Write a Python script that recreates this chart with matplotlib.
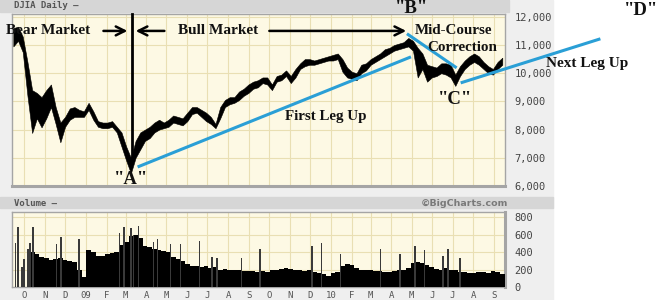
import matplotlib.pyplot as plt
import matplotlib.dates as mdates
from matplotlib.patches import Rectangle
from matplotlib.ticker import FuncFormatter
import pandas as pd

W, H = 664, 300

weeks = pd.date_range('2008-09-15', periods=105, freq='7D')
price_hi = [11600, 11650, 11300, 10400, 9400, 9300, 9150, 9400, 9600, 8800,
            8250, 8450, 8750, 8800, 8700, 8650, 8950, 8650, 8300, 8250,
            8250, 8300, 8100, 7900, 7400, 7000, 7600, 7900, 8000, 8100,
            8250, 8350, 8250, 8350, 8500, 8450, 8400, 8600, 8800, 8800,
            8700, 8600, 8450, 8200, 8800, 9050, 9150, 9150, 9350, 9450,
            9600, 9700, 9750, 9850, 9850, 9600, 9900, 9950, 10100, 9900,
            10150, 10350, 10500, 10500, 10450, 10500, 10550, 10600, 10650, 10700,
            10500, 10200, 10050, 10000, 10300, 10350, 10500, 10600, 10700, 10850,
            10900, 11000, 11050, 11100, 11250, 11150, 10900, 10700, 10300, 10250,
            10200, 10350, 10350, 10300, 9950, 10250, 10450, 10600, 10700, 10600,
            10400, 10250, 10150, 10400, 10550]
price_lo = [10950, 11150, 10750, 9200, 7880, 8400, 8080, 8400, 8800, 8200,
            7550, 8100, 8350, 8450, 8450, 8450, 8700, 8350, 8100, 8050,
            8050, 8100, 7900, 7400, 6900, 6450, 7000, 7300, 7600, 7700,
            7900, 8000, 8050, 8100, 8250, 8200, 8150, 8300, 8550, 8600,
            8450, 8300, 8200, 8050, 8400, 8800, 8900, 8950, 9050, 9200,
            9300, 9450, 9500, 9650, 9600, 9400, 9700, 9750, 9900, 9650,
            9850, 10150, 10250, 10300, 10300, 10350, 10400, 10450, 10450, 10500,
            10050, 9850, 9800, 9750, 10000, 10100, 10300, 10400, 10500, 10600,
            10700, 10800, 10850, 10900, 10950, 10800, 9850, 10150, 9700, 9850,
            9900, 10000, 9950, 9850, 9550, 9900, 10150, 10300, 10400, 10300,
            10150, 10000, 9950, 10150, 10300]

# ---- volume (millions): weekly base level + tall single days ----
vol_base = [0, 0, 0, 0, 400, 380, 340, 330, 310, 320,
            330, 310, 300, 290, 200, 110, 420, 400, 360, 350,
            380, 390, 400, 480, 520, 580, 600, 560, 470, 460,
            440, 420, 410, 400, 340, 320, 300, 260, 240, 240,
            230, 240, 220, 230, 200, 210, 200, 190, 190, 180,
            185, 180, 175, 180, 175, 190, 200, 210, 220, 210,
            200, 190, 180, 190, 170, 160, 150, 130, 160, 170,
            240, 260, 250, 220, 200, 190, 190, 180, 180, 175,
            170, 180, 190, 200, 220, 280, 290, 270, 250, 230,
            210, 200, 220, 200, 190, 170, 170, 160, 160, 170,
            170, 160, 180, 170, 150]
spike_dates = pd.to_datetime([
    '2008-09-18', '2008-09-22', '2008-09-28', '2008-10-01', '2008-10-07',
    '2008-10-10', '2008-10-14', '2008-11-18', '2008-11-25', '2008-12-22',
    '2009-02-20', '2009-02-27', '2009-03-09', '2009-03-13', '2009-03-20',
    '2009-04-12', '2009-04-18', '2009-05-07', '2009-05-22', '2009-06-19',
    '2009-07-08', '2009-07-15', '2009-08-21', '2009-09-17', '2009-12-04',
    '2009-12-18', '2010-01-15', '2010-03-16', '2010-04-14', '2010-05-06',
    '2010-05-07', '2010-05-20', '2010-06-17', '2010-06-24', '2010-07-12'])
spike_vals = [500, 690, 235, 320, 435,
              500, 690, 490, 570, 555,
              615, 690, 680, 600, 700,
              520, 550, 490, 490, 530,
              340, 330, 330, 435, 470,
              510, 380, 435, 380, 470,
              440, 430, 360, 435, 330]

month_ticks = pd.date_range('2008-10-01', '2010-09-01', freq='MS')
month_labels = ['O', 'N', 'D', '09', 'F', 'M', 'A', 'M', 'J', 'J', 'A', 'S',
                'O', 'N', 'D', '10', 'F', 'M', 'A', 'M', 'J', 'J', 'A', 'S']
price_ticks = [6000, 7000, 8000, 9000, 10000, 11000, 12000]
vol_ticks = [0, 200, 400, 600, 800]

# ---- hand drawn annotation points (date, price) ----
turn_date = '2009-03-10'
leg1 = [('2009-03-19', 6675), ('2010-04-30', 10580)]
correction = [('2010-04-24', 11400), ('2010-07-07', 10190)]
leg2 = [('2010-07-13', 9657), ('2011-02-06', 11220)]

BLUE = '#2a9fd6'
CREAM = '#fdf9e4'
GRID = '#e9dfb3'
EDGE = '#a5a5a5'
serif = 'Liberation Serif'
mono = 'DejaVu Sans Mono'


def d(s):
    return mdates.date2num(pd.Timestamp(s))


def fx(px):
    return px / W


def fy(py):
    return 1 - py / H


fig = plt.figure(figsize=(W / 100, H / 100), dpi=100, facecolor='white')

# BigCharts panel background and header bars
fig.add_artist(Rectangle((0, 0), fx(553), 1, transform=fig.transFigure,
                         color='#efefef', zorder=-10))
fig.add_artist(Rectangle((0, fy(12)), fx(509), 12 / H, transform=fig.transFigure,
                         color='#d6d6d6', zorder=-9))
fig.add_artist(Rectangle((0, fy(208)), fx(553), 11 / H, transform=fig.transFigure,
                         color='#d6d6d6', zorder=-9))
fig.text(fx(14), fy(6), 'DJIA Daily \u2014', fontsize=6.5, family=mono,
         color='#555555', va='center', fontweight='bold')
fig.text(fx(14), fy(203), 'Volume \u2014', fontsize=6.5, family=mono,
         color='#555555', va='center', fontweight='bold')
fig.text(fx(508), fy(203), '\u00a9BigCharts.com', fontsize=6.8, color='#7a7a7a',
         va='center', ha='right', fontweight='bold')

xmin, xmax = d('2008-09-13'), d('2010-09-17')

# ---- price panel ----
ax = fig.add_axes([fx(12), fy(186), fx(505) - fx(12), (186 - 14) / H])
ax.set_facecolor(CREAM)
ax.fill_between(weeks, price_lo, price_hi, color='black', lw=0.4,
                edgecolor='black', zorder=3)
ax.set_xlim(xmin, xmax)
ax.set_ylim(6000, 12100)
ax.set_xticks(month_ticks)
ax.set_yticks(price_ticks)
ax.yaxis.set_major_formatter(FuncFormatter(lambda v, p: f'{int(v):,}'))
ax.tick_params(axis='x', length=0, labelbottom=False)
ax.tick_params(axis='y', length=0, labelleft=False, labelright=True, pad=7,
               labelsize=7.5, labelcolor='#444444')
for lab in ax.get_yticklabels():
    lab.set_family(mono)
ax.grid(True, color=GRID, lw=0.8)
ax.set_axisbelow(True)
for s in ax.spines.values():
    s.set_color(EDGE)
    s.set_linewidth(1.0)
ax.spines['bottom'].set_linewidth(2.2)

# annotations
ax.plot([d(turn_date), d(turn_date)], [6810, 12100], color='black', lw=2,
        zorder=5, clip_on=False)
arr = dict(arrowstyle='->', color='black', lw=1.8, mutation_scale=16)
ax.annotate('', xy=(d('2009-03-08'), 11500), xytext=(d('2009-01-23'), 11500),
            arrowprops=arr, zorder=6)
ax.annotate('', xy=(d('2009-03-12'), 11500), xytext=(d('2009-05-02'), 11500),
            arrowprops=arr, zorder=6)
ax.annotate('', xy=(d('2010-04-27'), 11500), xytext=(d('2009-09-27'), 11500),
            arrowprops=arr, zorder=6, annotation_clip=False)

for seg in (leg1, correction, leg2):
    ax.plot([d(seg[0][0]), d(seg[1][0])], [seg[0][1], seg[1][1]], color=BLUE,
            lw=2.2, zorder=6, clip_on=False, solid_capstyle='butt')

tk = dict(family=serif, fontweight='bold', color='#111111', ha='center',
          va='center', zorder=7, clip_on=False)
ax.text(d('2008-11-06'), 11500, 'Bear Market', fontsize=11, **tk)
ax.text(d('2009-07-17'), 11500, 'Bull Market', fontsize=11, **tk)
ax.text(d('2010-07-02'), 11500, 'Mid-Course', fontsize=10.8, **tk)
ax.text(d('2010-07-15'), 10900, 'Correction', fontsize=10.8, **tk)
ax.text(d('2009-12-24'), 8450, 'First Leg Up', fontsize=10.8, **tk)
ax.text(d('2011-01-17'), 10330, 'Next Leg Up', fontsize=11, **tk)
ax.text(d('2009-03-09'), 6213, '"A"', fontsize=13.5, **tk)
ax.text(d('2010-05-01'), 12283, '"B"', fontsize=13.5, **tk)
ax.text(d('2010-07-05'), 9053, '"C"', fontsize=13.5, **tk)
ax.text(d('2011-04-07'), 12210, '"D"', fontsize=13.5, **tk)

# ---- volume panel ----
axv = fig.add_axes([fx(12), fy(287), fx(505) - fx(12), (287 - 212) / H])
axv.set_facecolor(CREAM)
axv.bar(weeks, vol_base, width=7, color='black', zorder=3)
axv.bar(spike_dates, spike_vals, width=2.2, color='#3a3a3a', zorder=3)
axv.set_xlim(xmin, xmax)
axv.set_ylim(0, 860)
axv.set_xticks(month_ticks)
axv.set_xticklabels(month_labels)
axv.set_yticks(vol_ticks)
axv.tick_params(axis='x', length=0, pad=3, labelsize=6.5, labelcolor='#555555')
axv.tick_params(axis='y', length=0, labelleft=False, labelright=True, pad=7,
                labelsize=7.5, labelcolor='#444444')
for lab in axv.get_yticklabels() + axv.get_xticklabels():
    lab.set_family(mono)
axv.grid(True, color=GRID, lw=0.8)
axv.set_axisbelow(True)
for s in axv.spines.values():
    s.set_color(EDGE)
    s.set_linewidth(1.0)
axv.spines['right'].set_linewidth(2.2)

fig.savefig('out.png', dpi=100)
